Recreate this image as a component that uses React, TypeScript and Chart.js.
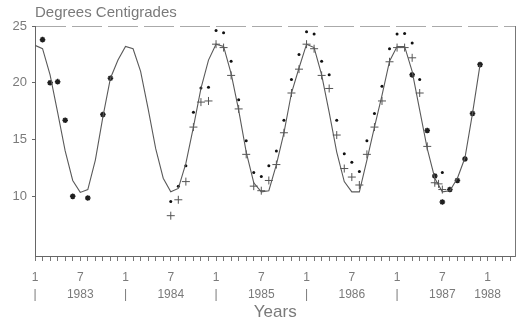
import React, { useEffect, useRef } from "react";
import { Chart, registerables } from "chart.js";

Chart.register(...registerables);

// Fitted monthly curve, month 0 = January 1983
const curveValues = [
  23.3, 23.0, 20.7, 17.4, 14.0, 11.4, 10.35, 10.6, 13.2, 17.0, 20.4, 22.0,
  23.2, 23.0, 21.0, 17.7, 14.2, 11.6, 10.4, 10.7, 12.9, 16.1, 19.5, 22.0,
  23.4, 23.2, 20.8, 17.6, 13.9, 11.2, 10.4, 10.5, 12.8, 15.6, 19.1, 21.3,
  23.4, 23.1, 20.7, 17.4, 13.9, 11.3, 10.4, 10.4, 13.2, 16.1, 18.9, 21.9,
  23.2, 23.2, 21.0, 17.6, 14.2, 11.6, 10.4, 10.5, 11.6, 13.4, 17.3, 21.6,
];

// Bold asterisk observations
const asteriskMonths = [1, 2, 3, 4, 5, 7, 9, 10, 50, 52, 53, 54, 55, 56, 57, 58, 59];
const asteriskValues = [23.8, 20.0, 20.1, 16.7, 10.0, 9.85, 17.2, 20.4, 20.7, 15.8, 11.8, 9.5, 10.6, 11.4, 13.3, 17.3, 21.6];

// Small dot observations
const dotMonths = [18, 19, 20, 21, 22, 23, 24, 25, 26, 27, 28, 29, 30, 31, 32, 33, 34, 35, 36, 37, 38, 39, 40, 41, 42, 43, 44, 45, 46, 47, 48, 49, 50, 51, 54];
const dotValues = [9.55, 10.9, 12.7, 17.4, 19.55, 19.6, 24.6, 24.4, 21.9, 18.5, 14.9, 12.1, 11.75, 12.7, 14.0, 16.7, 20.3, 22.5, 24.5, 24.3, 21.9, 20.7, 16.7, 13.75, 13.0, 12.2, 14.9, 17.3, 19.7, 23.0, 24.3, 24.35, 23.5, 20.3, 12.1];

// Plus-sign observations
const plusMonths = [18, 19, 20, 21, 22, 23, 24, 25, 26, 27, 28, 29, 30, 31, 32, 33, 34, 35, 36, 37, 38, 39, 40, 41, 42, 43, 44, 45, 46, 47, 48, 49, 50, 51, 52, 53, 53.5, 54];
const plusValues = [8.3, 9.7, 11.3, 16.1, 18.3, 18.4, 23.4, 23.1, 20.65, 17.7, 13.7, 10.9, 10.5, 11.4, 12.8, 15.6, 19.1, 21.2, 23.4, 23.0, 20.65, 19.5, 15.4, 12.45, 11.7, 11.0, 13.7, 16.1, 18.4, 21.85, 23.1, 23.1, 22.2, 19.1, 14.4, 11.2, 11.1, 10.6];

const yTickValues = [10, 15, 20, 25];
const xTickMonths = Array.from({ length: 64 }, (_, i) => i);
const julyYears = ["1983", "1984", "1985", "1986", "1987"];
const januaryMark = "|";
const lastYear = "1988";

const FONT = "'Liberation Sans', Arial, sans-serif";
const TEXT = "#7a7a7a";

export default function App() {
  const ref = useRef<HTMLCanvasElement>(null);

  useEffect(() => {
    Chart.defaults.font.family = FONT;
    const chart = new Chart(ref.current as HTMLCanvasElement, {
      type: "scatter",
      data: {
        datasets: [
          {
            type: "line",
            data: curveValues.map((v, i) => ({ x: i, y: v })),
            borderColor: "#5a5a5a",
            borderWidth: 1.1,
            pointRadius: 0,
            tension: 0,
            fill: false,
          } as any,
          {
            data: asteriskMonths.map((m, i) => ({ x: m, y: asteriskValues[i] })),
            pointStyle: "star",
            pointRadius: 2.8,
            borderWidth: 1.5,
            borderColor: "#1e1e1e",
            backgroundColor: "#1e1e1e",
          },
          {
            data: dotMonths.map((m, i) => ({ x: m, y: dotValues[i] })),
            pointStyle: "circle",
            pointRadius: 1.5,
            borderWidth: 0,
            backgroundColor: "#111",
          },
          {
            data: plusMonths.map((m, i) => ({ x: m, y: plusValues[i] })),
            pointStyle: "cross",
            pointRadius: 4,
            borderWidth: 1,
            borderColor: "#555",
            backgroundColor: "#555",
          },
        ],
      },
      options: {
        animation: false,
        responsive: false,
        devicePixelRatio: 1,
        layout: { padding: { left: 0, right: 2, top: 0, bottom: 0 } },
        plugins: {
          legend: { display: false },
          tooltip: { enabled: false },
          title: {
            display: true,
            fullSize: false,
            text: "Degrees Centigrades",
            align: "start",
            color: TEXT,
            font: { size: 15, weight: "normal", family: FONT },
            padding: { top: 4, bottom: 4 },
          },
        },
        scales: {
          x: {
            type: "linear",
            min: 0,
            max: 63.7,
            afterBuildTicks: (s: any) => {
              s.ticks = xTickMonths.map((v) => ({ value: v }));
            },
            afterFit: (s: any) => {
              s.height = 68;
            },
            ticks: {
              autoSkip: false,
              maxRotation: 0,
              minRotation: 0,
              color: TEXT,
              padding: 8,
              font: { size: 12, lineHeight: 1.4, family: FONT },
              callback: (value: any) => {
                const m = Number(value);
                if (m % 12 === 0) return ["1", m === 60 ? lastYear : januaryMark];
                if (m % 12 === 6) return ["7", julyYears[(m - 6) / 12]];
                return "";
              },
            },
            grid: {
              drawOnChartArea: false,
              tickLength: 5,
              tickColor: "#777",
              color: "#777",
            },
            border: { color: "#666" },
            title: {
              display: true,
              text: "Years",
              color: TEXT,
              font: { size: 17, family: FONT },
              padding: { top: 0, bottom: 1 },
            },
          },
          y: {
            type: "linear",
            min: 4.75,
            max: 25,
            afterBuildTicks: (s: any) => {
              s.ticks = yTickValues.map((v) => ({ value: v }));
            },
            afterFit: (s: any) => {
              s.width = 35;
            },
            ticks: {
              color: TEXT,
              padding: 5,
              font: { size: 13, family: FONT },
            },
            grid: {
              color: (c: any) => (c.tick && c.tick.value === 25 ? "#aaaaaa" : "rgba(0,0,0,0)"),
              tickColor: "#666",
              tickLength: 3,
            },
            border: { color: "#666", dash: [30, 6] },
          },
          y2: {
            type: "linear",
            position: "right",
            display: true,
            grid: { display: false },
            ticks: { display: false },
            border: { display: true, color: "#777" },
            afterFit: (s: any) => {
              s.width = 0;
            },
          },
        },
      },
    });
    return () => chart.destroy();
  }, []);

  return (
    <canvas
      ref={ref}
      width={521}
      height={324}
      style={{ position: "absolute", left: 0, top: 0, display: "block" }}
    />
  );
}
